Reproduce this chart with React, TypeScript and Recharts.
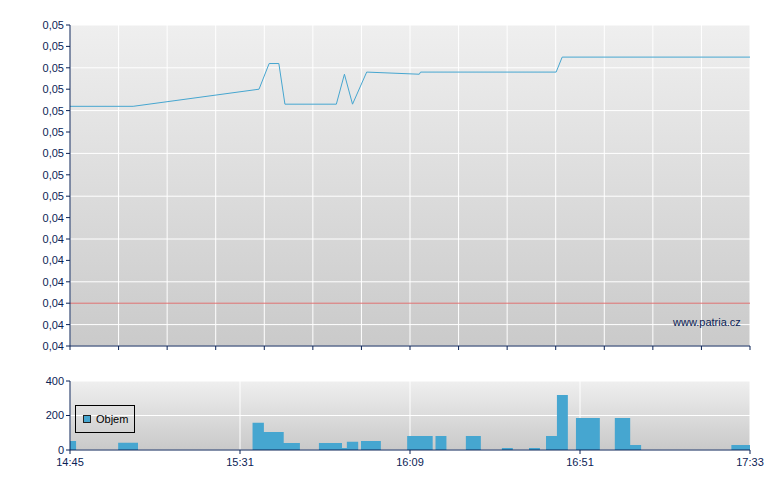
import { LineChart, Line, AreaChart, Area, XAxis, YAxis, CartesianGrid, ReferenceLine } from 'recharts';

// minutes since 14:45
const priceTime = [0, 15.6, 46.7, 49.2, 51.6, 53.1, 65.8, 67.8, 69.8, 73.3, 86.3, 86.6, 120.1, 121.6, 168];
const priceValue = [0.04594, 0.04594, 0.0461, 0.04634, 0.04634, 0.04596, 0.04596, 0.04624, 0.04596, 0.04626, 0.04624, 0.04626, 0.04626, 0.0464, 0.0464];
const prevClose = 0.0441;

const volStart = [0, 11.9, 45.1, 47.9, 52.8, 61.5, 67.2, 68.4, 71.9, 83.3, 90.3, 97.8, 106.7, 113.4, 117.6, 120.3, 125.0, 134.6, 138.4, 163.4];
const volEnd = [1.5, 16.8, 47.9, 52.8, 56.8, 67.2, 68.4, 71.2, 76.8, 89.6, 93.0, 101.5, 109.4, 116.1, 120.3, 123.0, 130.9, 138.4, 141.1, 168];
const volValue = [52, 42, 158, 104, 41, 41, 12, 48, 52, 81, 81, 81, 12, 12, 81, 319, 186, 186, 29, 29];

const priceTicks = [0.0437, 0.0439, 0.0441, 0.0443, 0.0445, 0.0447, 0.0449, 0.0451, 0.0453, 0.0455, 0.0457, 0.0459, 0.0461, 0.0463, 0.0465, 0.0467];
const gridTicks = [0, 12, 24, 36, 48, 60, 72, 84, 96, 108, 120, 132, 144, 156, 168];
const timeTicks = [0, 42, 84, 126, 168];
const timeLabels = ['14:45', '15:31', '16:09', '16:51', '17:33'];
const volTicks = [0, 200, 400];

const NAVY = '#0b2356';
const BLUE = '#46a6d0';

const priceData = priceTime.map((t, i) => ({ t, p: priceValue[i] }));

const volData: { t: number; v: number }[] = [];
volStart.forEach((s, i) => {
  volData.push({ t: s, v: volValue[i] });
  const next = volStart[i + 1];
  if (next === undefined || next !== volEnd[i]) volData.push({ t: volEnd[i], v: 0 });
});

const tickStyle = { fontSize: 11, fill: NAVY };

export default function App() {
  return (
    <div
      style={{
        position: 'absolute',
        left: 0,
        top: 0,
        width: 780,
        height: 490,
        background: '#fff',
        fontFamily: '"Liberation Sans", Arial, sans-serif',
      }}
    >
      <div style={{ position: 'absolute', left: 0, top: 0 }}>
        <LineChart width={780} height={360} data={priceData} margin={{ top: 25, right: 30, left: 0, bottom: 0 }}>
          <defs>
            <linearGradient id="priceBg" x1="0" y1="0" x2="0" y2="1">
              <stop offset="0%" stopColor="#efefef" />
              <stop offset="100%" stopColor="#cacaca" />
            </linearGradient>
          </defs>
          <CartesianGrid fill="url(#priceBg)" stroke="#ffffff" strokeWidth={1} />
          <XAxis
            dataKey="t"
            type="number"
            domain={[0, 168]}
            ticks={gridTicks}
            tickFormatter={() => ''}
            height={14}
            tickSize={4}
            axisLine={{ stroke: NAVY }}
            tickLine={{ stroke: NAVY }}
          />
          <YAxis
            type="number"
            domain={[0.0437, 0.0467]}
            ticks={priceTicks}
            width={70}
            tickSize={4}
            tick={tickStyle}
            axisLine={{ stroke: NAVY }}
            tickLine={{ stroke: NAVY }}
            tickFormatter={(v: number) => v.toFixed(2).replace('.', ',')}
          />
          <ReferenceLine y={prevClose} stroke="#e07272" strokeWidth={1} />
          <Line
            type="linear"
            dataKey="p"
            stroke={BLUE}
            strokeWidth={1}
            dot={false}
            isAnimationActive={false}
          />
        </LineChart>
      </div>

      <div style={{ position: 'absolute', left: 0, top: 365 }}>
        <AreaChart width={780} height={125} data={volData} margin={{ top: 16, right: 30, left: 0, bottom: 15 }}>
          <defs>
            <linearGradient id="volBg" x1="0" y1="0" x2="0" y2="1">
              <stop offset="0%" stopColor="#efefef" />
              <stop offset="100%" stopColor="#c9c9c9" />
            </linearGradient>
          </defs>
          <CartesianGrid fill="url(#volBg)" stroke="#ffffff" strokeWidth={1} />
          <XAxis
            dataKey="t"
            type="number"
            domain={[0, 168]}
            ticks={timeTicks}
            height={25}
            tickSize={4}
            tickMargin={4}
            tick={tickStyle}
            axisLine={{ stroke: NAVY }}
            tickLine={{ stroke: NAVY }}
            tickFormatter={(v: number) => timeLabels[timeTicks.indexOf(v)] ?? ''}
          />
          <YAxis
            type="number"
            domain={[0, 400]}
            ticks={volTicks}
            width={70}
            tickSize={4}
            tick={tickStyle}
            axisLine={{ stroke: NAVY }}
            tickLine={{ stroke: NAVY }}
          />
          <Area
            type="stepAfter"
            dataKey="v"
            stroke="none"
            fill={BLUE}
            fillOpacity={1}
            isAnimationActive={false}
          />
        </AreaChart>
      </div>

      <div
        style={{
          position: 'absolute',
          left: 75,
          top: 405,
          width: 58,
          height: 26,
          border: '1px solid #000',
          display: 'flex',
          alignItems: 'center',
          fontSize: 11,
          color: '#000',
        }}
      >
        <span
          style={{
            display: 'inline-block',
            width: 6,
            height: 6,
            marginLeft: 7,
            marginRight: 5,
            background: BLUE,
            border: '1px solid #222',
          }}
        />
        Objem
      </div>

      <div style={{ position: 'absolute', left: 673, top: 316, fontSize: 11, color: NAVY }}>www.patria.cz</div>
    </div>
  );
}
